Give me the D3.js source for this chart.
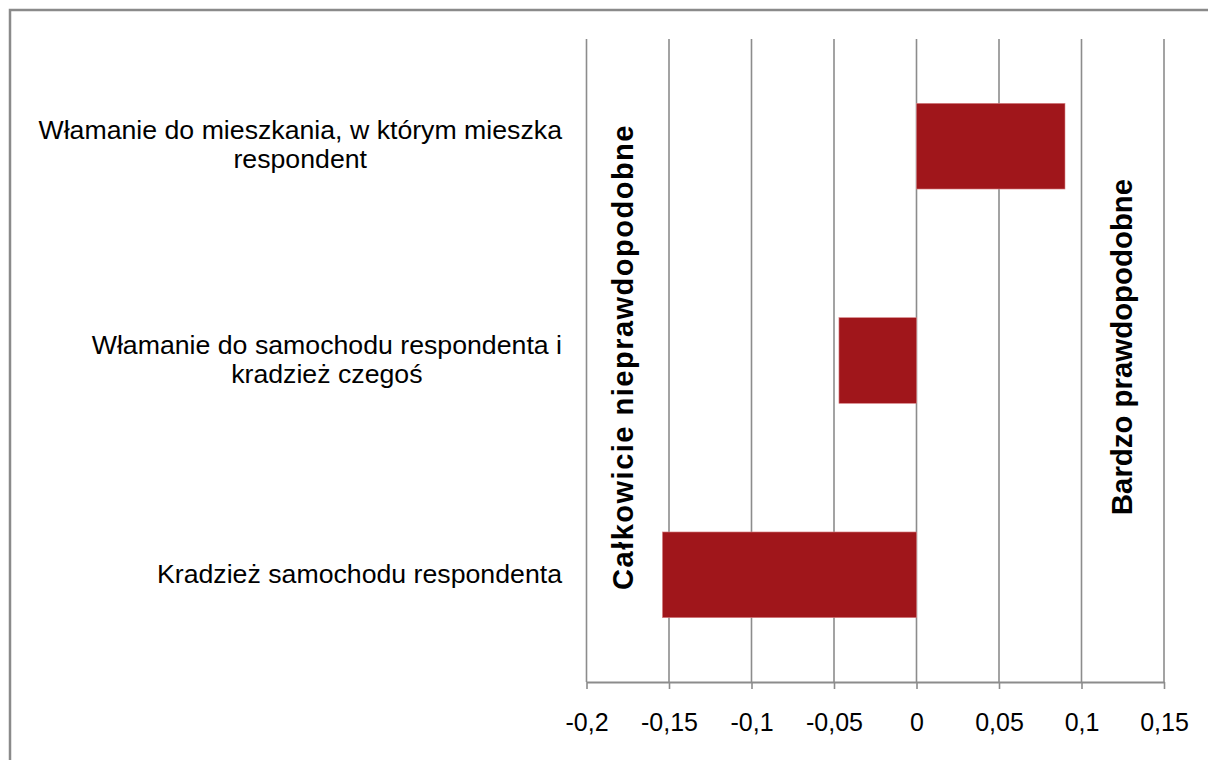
<!DOCTYPE html>
<html>
<head>
<meta charset="utf-8">
<script src="https://cdn.jsdelivr.net/npm/d3@7"></script>
<style>
  body { margin: 0; background: #fff; }
  text { font-family: "Liberation Sans", Arial, sans-serif; fill: #000; }
</style>
</head>
<body>
<svg id="chart" width="1208" height="760"></svg>
<script>
// data
const categories = [
    ["Włamanie do mieszkania, w którym mieszka", "respondent"],
    ["Włamanie do samochodu respondenta i", "kradzież czegoś"],
    ["Kradzież samochodu respondenta"]
];
const values = [0.09, -0.047, -0.154];
const tickValues = [-0.2, -0.15, -0.1, -0.05, 0, 0.05, 0.1, 0.15];
const leftNote = "Całkowicie nieprawdopodobne";
const rightNote = "Bardzo prawdopodobne";

const svg = d3.select("#chart");
const margin = { top: 39, right: 44, bottom: 78, left: 586.5 };
const width = 1208, height = 760;

// outer frame (runs off the right and bottom edge)
svg.append("rect")
    .attr("x", 10).attr("y", 10)
    .attr("width", 1220).attr("height", 780)
    .attr("fill", "none")
    .attr("stroke", "#8a8a8a")
    .attr("stroke-width", 2.5);

const x = d3.scaleLinear()
    .domain([-0.2, 0.15])
    .range([margin.left, width - margin.right]);

const y = d3.scaleBand()
    .domain(d3.range(categories.length))
    .range([margin.top, height - margin.bottom])
    .paddingInner(0.6)
    .paddingOuter(0.3);

// vertical gridlines
svg.append("g")
    .selectAll("line")
    .data(tickValues)
    .join("line")
    .attr("x1", d => x(d)).attr("x2", d => x(d))
    .attr("y1", margin.top).attr("y2", height - margin.bottom)
    .attr("stroke", "#8c8c8c")
    .attr("stroke-width", 1.6);

// bars
svg.append("g")
    .selectAll("rect")
    .data(values)
    .join("rect")
    .attr("x", d => x(Math.min(0, d)))
    .attr("width", d => Math.abs(x(d) - x(0)))
    .attr("y", (d, i) => y(i))
    .attr("height", y.bandwidth())
    .attr("fill", "#a0161b")
    .attr("stroke", "#d9888a")
    .attr("stroke-width", 0.6);

// x axis
const fmt = d => String(+d.toFixed(2)).replace(".", ",");
const xAxis = svg.append("g")
    .attr("transform", `translate(0,${height - margin.bottom})`)
    .call(d3.axisBottom(x).tickValues(tickValues).tickSize(7).tickSizeOuter(0).tickFormat(fmt));
xAxis.select(".domain").attr("stroke", "#8c8c8c").attr("stroke-width", 2);
xAxis.selectAll(".tick line").attr("stroke", "#8c8c8c").attr("stroke-width", 1.6);
xAxis.selectAll(".tick text")
    .attr("font-size", 25)
    .attr("font-family", "Liberation Sans, Arial, sans-serif")
    .attr("fill", "#000")
    .attr("y", 0).attr("dy", 0)
    .attr("transform", "translate(0,49)");

// category labels: block right-aligned, lines centred within it
const fs = 26.7, lh = 29, labelRight = 562;
const labels = svg.append("g");
categories.forEach((lines, i) => {
    const cy = y(i) + y.bandwidth() / 2;
    const g = labels.append("g");
    const texts = g.selectAll("text")
        .data(lines)
        .join("text")
        .attr("font-size", fs)
        .attr("text-anchor", "middle")
        .attr("y", (d, j) => cy + (j - (lines.length - 1) / 2) * lh + fs * 0.29)
        .text(d => d);
    let w = 0;
    texts.each(function() { w = Math.max(w, this.getComputedTextLength()); });
    texts.attr("x", labelRight - w / 2);
});

// rotated side notes
svg.append("text")
    .attr("transform", `translate(633,357) rotate(-90)`)
    .attr("text-anchor", "middle")
    .attr("font-size", 29)
    .attr("font-weight", "bold")
    .attr("letter-spacing", 1.5)
    .text(leftNote);

svg.append("text")
    .attr("transform", `translate(1132,347) rotate(-90)`)
    .attr("text-anchor", "middle")
    .attr("font-size", 29.4)
    .attr("font-weight", "bold")
    .text(rightNote);
</script>
</body>
</html>
